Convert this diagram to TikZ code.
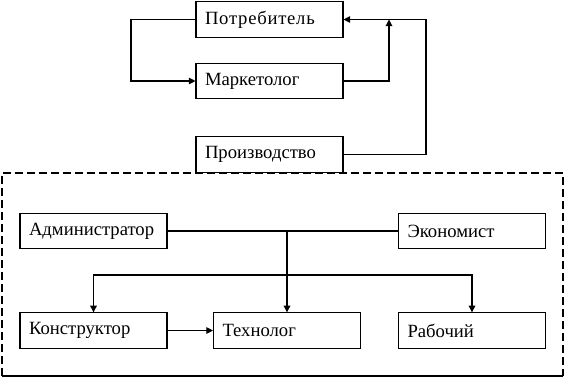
\documentclass[tikz,border=0pt]{standalone}
\usepackage{fontspec}
\setmainfont{Liberation Serif}
\usetikzlibrary{arrows.meta}
\tikzset{
  unit/.style={draw=black,line width=0.8pt,minimum height=26.5pt,
    text width=96.75pt,inner xsep=6.75pt,inner ysep=0pt,align=left,
    font=\fontsize{14}{16}\selectfont},
  link/.style={line width=0.8pt},
  ar/.style={link,-{Triangle[length=5pt,width=5pt]}},
}
\begin{document}
\begin{tikzpicture}[x=0.75pt,y=-0.75pt]
  \useasboundingbox (0,0) rectangle (566,382);
  % ---- upper part ----
  \node[unit] (potr) at (269.5,19.5) {\addfontfeature{LetterSpace=4}Потребитель};
  \node[unit] (mark) at (269.5,81) {Маркетолог};
  \node[unit] (proiz) at (269.5,154.5) {Производство};
  \coordinate (loop) at (131,19.5);
  \coordinate (join) at (389,19.5);
  \coordinate (back) at (426,19.5);
  \draw[ar] (potr.west) -- (loop) |- (mark.west);
  \draw[ar] (mark.east) -| (join);
  \draw[ar] (proiz.east) -| (back) -- (potr.east);
  % ---- production block ----
  \draw[dashed,dash pattern=on 6pt off 3pt,line width=0.8pt]
    (2,376) -- (2,173) -- (563,173) -- (563,376);
  \draw[link] (2,376) -- (563,376);
  \node[unit] (admin) at (93.5,231) {Администратор};
  \node[unit] (econ) at (472,231) {Экономист};
  \node[unit] (konstr) at (93.5,330.5) {Конструктор};
  \node[unit] (tech) at (287,330.5) {Технолог};
  \node[unit] (rab) at (472,330.5) {Рабочий};
  \coordinate (bus) at (287,275);
  \draw[link] (admin.east) -- (econ.west);
  \draw[ar] (admin.east -| tech.north) -- (tech.north);
  \draw[ar] (bus) -| (konstr.north);
  \draw[ar] (bus) -| (rab.north);
  \draw[ar] (konstr.east) -- (tech.west);
\end{tikzpicture}
\end{document}
